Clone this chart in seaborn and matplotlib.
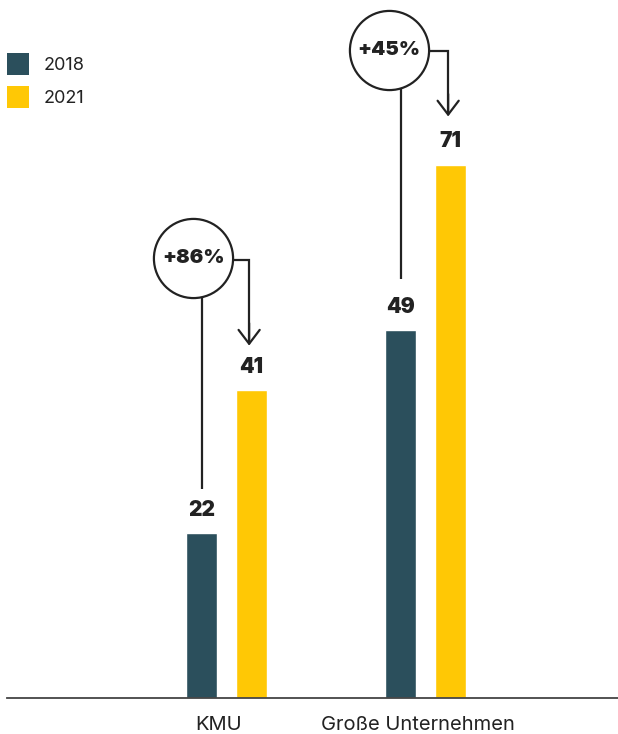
import matplotlib
matplotlib.use("Agg")
import matplotlib.pyplot as plt
from matplotlib.patches import Patch
from matplotlib.transforms import ScaledTranslation
import seaborn as sns
import pandas as pd

categories = ["KMU", "Große Unternehmen"]
years = ["2018", "2021"]
values_2018 = [22, 49]
values_2021 = [41, 71]
changes = ["+86%", "+45%"]

colors = {"2018": "#2b4f5c", "2021": "#ffc805"}
ink = "#222222"

df = pd.DataFrame({
    "cat": categories * 2,
    "year": [years[0]] * 2 + [years[1]] * 2,
    "val": values_2018 + values_2021,
})

sns.set_theme(style="white")
plt.rcParams["font.family"] = ["Inter", "DejaVu Sans"]

fig = plt.figure(figsize=(6.18, 7.34), dpi=100)
ax = fig.add_axes([7 / 618, 36 / 734, 611 / 618, 698 / 734])

sns.barplot(data=df, x="cat", y="val", hue="year", order=categories,
            hue_order=years, palette=colors, width=0.5025, gap=0.38,
            ax=ax, legend=False, saturation=1)

ax.set_xlim(-1.103, 1.967)
ax.set_ylim(0, 92.9)
ax.set_xlabel("")
ax.set_ylabel("")
ax.set_yticks([])
for s in ["top", "right", "left"]:
    ax.spines[s].set_visible(False)
ax.spines["bottom"].set_color("#444444")
ax.spines["bottom"].set_linewidth(1.3)
ax.tick_params(axis="x", length=0, pad=13, labelsize=14.5, labelcolor=ink)
for lab in ax.get_xticklabels():
    lab.set_transform(lab.get_transform() + ScaledTranslation(-8 / 72 * 0.72, 0, fig.dpi_scale_trans))

off = 0.1256
# value labels
for i, (a, b) in enumerate(zip(values_2018, values_2021)):
    for x, v in ((i - off, a), (i + off, b)):
        ax.annotate(str(v), (x, v), xytext=(0, 9.5), textcoords="offset points",
                    ha="center", va="bottom", fontsize=15, fontweight=900,
                    color=ink)

# change annotations: circle, connector lines, arrow
ann = [
    dict(cx=-0.168, cy=58.5, lb=27.8, tip=46.9),
    dict(cx=-0.183, cy=86.3, lb=55.8, tip=77.4),
]
lw = 1.6
for i, (a, txt) in enumerate(zip(ann, changes)):
    cx = i + a["cx"]
    xl = i - off + 0.003
    xr = i + off - 0.012
    ax.plot([xl, xl], [a["cy"] - 4.5, a["lb"]], color=ink, lw=lw, zorder=2,
            solid_capstyle="butt")
    ax.plot([cx, xr, xr], [a["cy"] - 0.2, a["cy"] - 0.2, a["tip"] + 0.3],
            color=ink, lw=lw, zorder=2, solid_capstyle="butt",
            solid_joinstyle="miter")
    ax.annotate("", xy=(xr, a["tip"]), xytext=(xr, a["tip"] + 3),
                arrowprops=dict(arrowstyle="->,head_length=0.5,head_width=0.38",
                                mutation_scale=20, lw=lw, color=ink,
                                shrinkA=0, shrinkB=0), zorder=3)
    ax.plot([cx], [a["cy"]], marker="o", ms=57, mfc="white", mec=ink,
            mew=1.6, zorder=4)
    ax.text(cx, a["cy"], txt, ha="center", va="center", fontsize=14.5,
            fontweight=900, color=ink, zorder=5)

handles = [Patch(facecolor=colors[y], edgecolor="none") for y in years]
fig.legend(handles, years, loc="upper left",
           bbox_to_anchor=(7 / 618, 1 - 53 / 734), frameon=False,
           fontsize=13, handlelength=1.2, handleheight=1.5,
           handletextpad=0.85, labelspacing=0.62, borderpad=0,
           borderaxespad=0, labelcolor=ink)

fig.savefig("out.png", dpi=100)
